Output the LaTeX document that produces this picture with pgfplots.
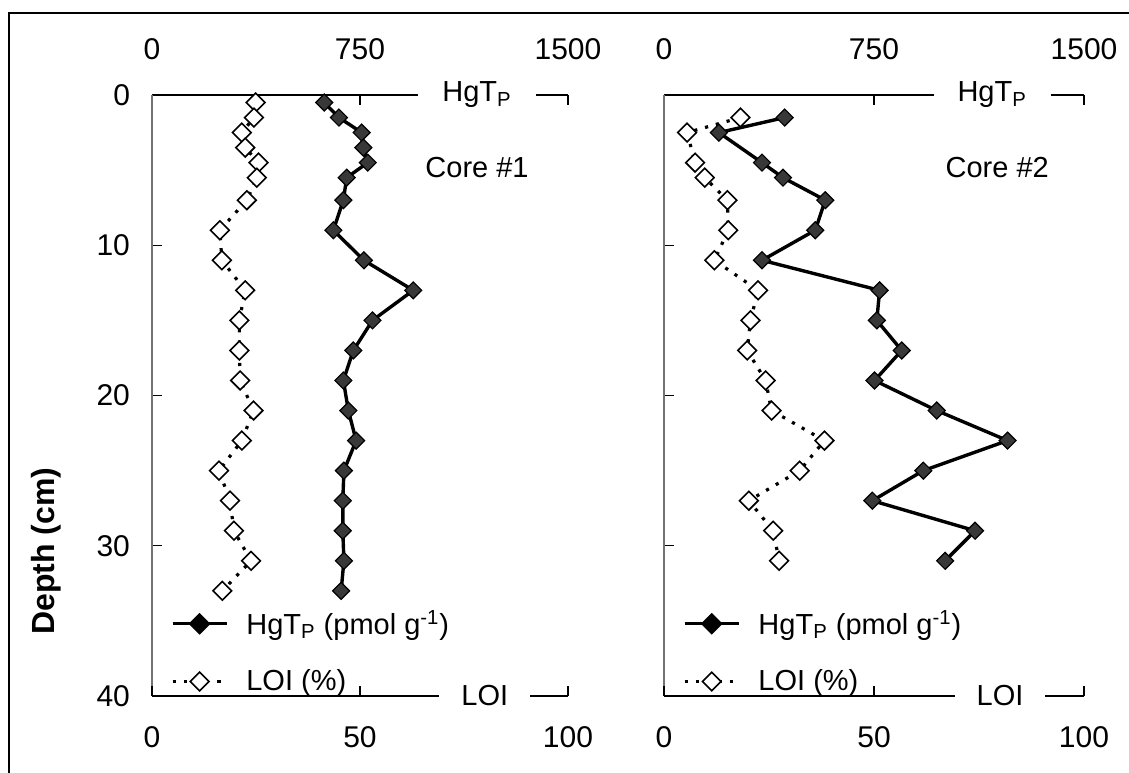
\documentclass[border=0pt]{standalone}
\usepackage{fontspec}
\setmainfont{Liberation Sans}
\usepackage{pgfplots}
\usepackage{pgfplotstable}
\pgfplotsset{compat=1.18}
\newcommand\tickfont{\fontsize{15}{18}\selectfont}
\newcommand\labfont{\fontsize{14.5}{17}\selectfont}
\newcommand\legfont{\fontsize{14.5}{17}\selectfont}
\pgfplotstableread{
d hg loi
0.5 621 24.9
1.5 674 24.5
2.5 756 21.6
3.5 762 22.4
4.5 778 25.6
5.5 702 25.2
7 690 22.8
9 654 16.3
11 764 16.8
13 942 22.4
15 795 21.0
17 726 21.0
19 690 21.2
21 708 24.4
23 736 21.6
25 692 16.1
27 688 18.75
29 688 19.7
31 692 23.8
33 682 16.9
}\coreone
\pgfplotstableread{
d hg loi
1.5 431 18.2
2.5 196 5.5
4.5 350 7.4
5.5 425 9.7
7 576 15.1
9 540 15.3
11 350 12.0
13 770 22.4
15 760 20.6
17 849 19.8
19 752 24.2
21 974 25.6
23 1227 38.2
25 926 32.3
27 744 20.2
29 1111 26.0
31 1004 27.4
}\coretwo
\pgfplotsset{
  /pgf/number format/assume math mode=true,
  /pgf/number format/1000 sep={},
  hgstyle/.style={black, line width=1.7pt, mark=square*, mark size=3.0pt,
    mark options={rotate=45, fill=black!78, draw=black, line width=0.6pt, solid}},
  loistyle/.style={black, line width=1.6pt, dash pattern=on 1.6pt off 4pt,
    mark=square*, mark size=3.3pt,
    mark options={rotate=45, fill=white, draw=black, line width=0.8pt, solid}},
  hglegend/.style={black, line width=1.7pt, mark=square*, mark size=3.0pt,
    mark options={rotate=45, fill=black, draw=black, solid}},
  panel/.style={scale only axis, height=300.5pt, ymin=0, ymax=40, y dir=reverse,
    tick align=inside, major tick length=5pt,
    tick style={black, line width=0.65pt},
    axis line style={-, line width=0.65pt, black},
    tick label style={font=\tickfont},
    clip=false},
  hgaxis/.style={panel, xmin=0, xmax=1500, xtick={0,750,1500},
    axis x line*=top, axis y line*=left,
    y axis line style={black!55, line width=1pt},
    ytick={0,10,20,30,40},
    xticklabel style={font=\tickfont, yshift=14pt},
    yticklabel style={font=\tickfont, xshift=-7.5pt}},
  loiaxis/.style={panel, xmin=0, xmax=100, xtick={0,50,100},
    axis x line*=bottom, axis y line=none,
    xticklabel style={font=\tickfont, yshift=-11.5pt},
    legend cell align=left,
    legend image code/.code={\draw[mark repeat=2,mark phase=2] plot coordinates {(0cm,0cm) (0.475cm,0cm) (0.95cm,0cm)};},
    legend style={at={(0.03,0.157)}, anchor=north west, draw=none, fill=none,
      font=\legfont, row sep=12pt, column sep=7pt}},
}
\begin{document}
\begin{tikzpicture}
\useasboundingbox (0,0) rectangle (564.5pt,386pt);
\draw[line width=1pt] (4.25pt,-5pt) -- (4.25pt,379.5pt) -- (570pt,379.5pt);
\node[rotate=90, font=\bfseries\fontsize{16}{19}\selectfont] at (23pt,110.5pt) {Depth (cm)};
% ---- Core 1
\begin{axis}[hgaxis, at={(76pt,38pt)}, anchor=south west, width=208pt]
\addplot[hgstyle] table[x=hg, y=d] {\coreone};
\node[fill=white, inner xsep=12pt, inner ysep=1pt, font=\labfont] at (axis cs:1172,0) {HgT\textsubscript{P}};
\node[font=\labfont] at (axis cs:1172,4.85) {Core \#1};
\end{axis}
\begin{axis}[loiaxis, at={(76pt,38pt)}, anchor=south west, width=208pt]
\addlegendimage{hglegend}
\addlegendentry{HgT\textsubscript{P} (pmol g\textsuperscript{-1})}
\addplot[loistyle] table[x=loi, y=d] {\coreone};
\addlegendentry{LOI (\%)}
\node[fill=white, inner xsep=11pt, inner ysep=1pt, font=\labfont] at (axis cs:80,40) {LOI};
\end{axis}
% ---- Core 2
\begin{axis}[hgaxis, at={(332pt,38pt)}, anchor=south west, width=210pt, yticklabels={}]
\addplot[hgstyle] table[x=hg, y=d] {\coretwo};
\node[fill=white, inner xsep=12pt, inner ysep=1pt, font=\labfont] at (axis cs:1172,0) {HgT\textsubscript{P}};
\node[font=\labfont] at (axis cs:1190,4.85) {Core \#2};
\end{axis}
\begin{axis}[loiaxis, at={(332pt,38pt)}, anchor=south west, width=210pt]
\addlegendimage{hglegend}
\addlegendentry{HgT\textsubscript{P} (pmol g\textsuperscript{-1})}
\addplot[loistyle] table[x=loi, y=d] {\coretwo};
\addlegendentry{LOI (\%)}
\node[fill=white, inner xsep=11pt, inner ysep=1pt, font=\labfont] at (axis cs:80,40) {LOI};
\end{axis}
\end{tikzpicture}
\end{document}
